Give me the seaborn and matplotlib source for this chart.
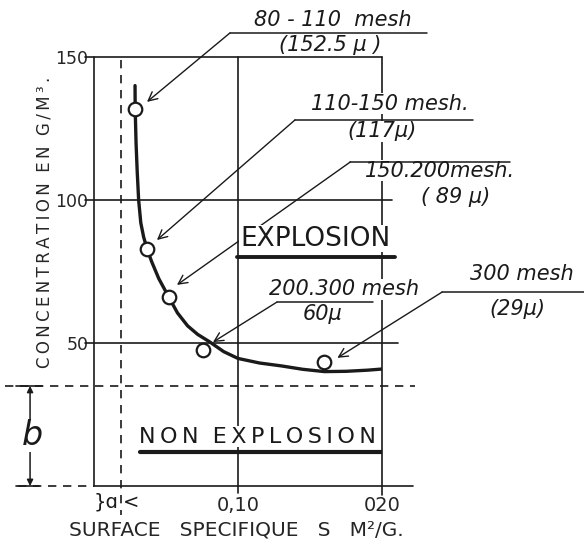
import numpy as np
import pandas as pd
import matplotlib
matplotlib.use("Agg")
import matplotlib.pyplot as plt
import seaborn as sns

sns.set_style("white")
plt.rcParams["font.family"] = ["DejaVu Sans"]

# ---- données -------------------------------------------------------------
# points mesurés (surface spécifique m2/g, concentration g/m3)
pt_x = [0.0285, 0.0368, 0.052, 0.0757, 0.160]
pt_y = [131.8, 82.9, 66.1, 47.6, 43.4]

# courbe tracée à la main
crb_x = [0.0285, 0.0286, 0.0292, 0.0300, 0.0310, 0.0325, 0.0345, 0.0368, 0.040,
         0.045, 0.052, 0.058, 0.065, 0.072, 0.080, 0.090, 0.100, 0.115, 0.130,
         0.145, 0.160, 0.175, 0.190, 0.200]
crb_y = [140, 132, 120, 110, 100, 92, 87, 83, 78.5,
         72.5, 66, 60.5, 56, 53, 50.5, 47, 44.6, 43, 42,
         40.8, 40, 40.1, 40.5, 40.9]

# étiquettes des fractions granulométriques
lab_haut = ["80 - 110  mesh", "110-150 mesh.", "150.200mesh.", "200.300 mesh", "300 mesh"]
lab_bas = ["(152.5 \u00b5 )", "(117\u00b5)", "( 89 \u00b5)", "60\u00b5", "(29\u00b5)"]

y_ticks = [50, 100, 150]
x_ticks = [0.10, 0.20]
x_ticklab = ["0,10", "020"]
a_val = 0.01875   # limite a
b_val = 35        # limite b

df = pd.DataFrame({"S": crb_x, "C": crb_y})
dp = pd.DataFrame({"S": pt_x, "C": pt_y})


def espace(t):
    # lettres espacées comme sur le dessin
    return "  ".join("\u2009".join(m) for m in t.split(" "))


# ---- figure ---------------------------------------------------------------
fig = plt.figure(figsize=(5.84, 5.40), dpi=100)
W, H = 584, 540
ax = fig.add_axes([94 / W, 1 - 486 / H, 288 / W, 429 / H])
ax.set_xlim(0, 0.20)
ax.set_ylim(0, 150)
for s in ax.spines.values():
    s.set_visible(False)

k = "#1a1a1a"
lw = 1.2

# grille dessinée
ax.plot([0, 0], [0, 150], color=k, lw=lw, clip_on=False)
ax.plot([0.10, 0.10], [-2.5, 150], color=k, lw=lw, clip_on=False)
ax.plot([0.20, 0.20], [-3, 150], color=k, lw=lw, clip_on=False)
ax.plot([-0.006, 0.20], [150, 150], color=k, lw=lw, clip_on=False, zorder=6)
ax.plot([-0.006, 0.207], [100, 100], color=k, lw=lw, clip_on=False)
ax.plot([-0.006, 0.211], [50, 50], color=k, lw=lw, clip_on=False)
ax.plot([0, 0.2215], [0, 0], color=k, lw=lw, clip_on=False)

# limites a et b (tirets)
ax.plot([-0.062, 0.223], [b_val, b_val], color=k, lw=lw, ls=(0, (5, 4)), clip_on=False)
ax.plot([a_val, a_val], [149, -10], color=k, lw=lw, ls=(0, (5, 4)), clip_on=False)
ax.plot([-0.053, 0], [0, 0], color=k, lw=lw, ls=(0, (5, 4)), clip_on=False)
ax.plot([-0.054, -0.036], [b_val, b_val], color=k, lw=lw, clip_on=False)
ax.plot([-0.054, -0.038], [0, 0], color=k, lw=lw, clip_on=False)
ax.annotate("", xy=(-0.0444, 0), xytext=(-0.0444, b_val), annotation_clip=False,
            arrowprops=dict(arrowstyle="<|-|>", color=k, lw=1.1, mutation_scale=9,
                            shrinkA=0, shrinkB=0))
ax.text(-0.043, 17.5, "b", fontsize=24, style="italic", ha="center", va="center",
        color=k, clip_on=False, bbox=dict(fc="white", ec="none", pad=0))

# courbe et points
sns.lineplot(data=df, x="S", y="C", sort=False, color=k, lw=2.4, ax=ax, zorder=3)
sns.scatterplot(data=dp, x="S", y="C", s=95, facecolor="white", edgecolor=k,
                linewidth=1.6, ax=ax, zorder=4)

# annotations
txt_pos = [(0.166, 163), (0.2056, 133.6), (0.240, 110.2), (0.174, 68.8), (0.297, 74.2)]
sub_pos = [(0.164, 154.2), (0.200, 124.0), (0.251, 101.0), (0.159, 60.3), (0.294, 62.0)]
ul = [(0.0944, 0.231, 158.4), (0.1396, 0.263, 128), (0.178, 0.289, 113.3),
      (0.127, 0.194, 64.3), (0.2417, 0.340, 67.8)]
tips = [(0.0368, 134.3), (0.0437, 86.0), (0.0576, 70.3), (0.0826, 50.3), (0.169, 44.8)]
for i in range(5):
    ax.text(*txt_pos[i], lab_haut[i], fontsize=15, style="italic", ha="center",
            va="center", color=k, clip_on=False,
            bbox=dict(fc="white", ec="none", pad=0.3))
    ax.text(*sub_pos[i], lab_bas[i], fontsize=15, style="italic", ha="center",
            va="center", color=k, clip_on=False,
            bbox=dict(fc="white", ec="none", pad=0.3))
    x0, x1, yy = ul[i]
    ax.plot([x0, x1], [yy, yy], color=k, lw=1.1, clip_on=False, zorder=5)
    ax.annotate("", xy=tips[i], xytext=(x0, yy), annotation_clip=False,
                arrowprops=dict(arrowstyle="->", color=k, lw=1.0, mutation_scale=16,
                                shrinkA=0, shrinkB=0))

ax.text(0.1535, 86.5, "EXPLOSION", fontsize=19, ha="center", va="center", color=k,
        bbox=dict(fc="white", ec="none", pad=0.5))
ax.plot([0.0993, 0.209], [80, 80], color=k, lw=2.8, clip_on=False, zorder=5)
ax.text(0.1135, 17.3, espace("NON EXPLOSION"), fontsize=16, ha="center", va="center",
        color=k, bbox=dict(fc="white", ec="none", pad=0.5))
ax.plot([0.032, 0.200], [11.9, 11.9], color=k, lw=3.0, zorder=5)

# axes
ax.set_yticks(y_ticks)
ax.set_yticklabels([str(v) for v in y_ticks], fontsize=12.5)
ax.set_xticks(x_ticks)
ax.set_xticklabels(x_ticklab, fontsize=14)
ax.tick_params(axis="y", length=0, pad=4)
ax.tick_params(axis="x", length=0, pad=7)
ax.text(a_val - 0.0015, -5.6, "}\u0251", fontsize=14, ha="right", va="center", color=k)
ax.text(a_val + 0.0010, -5.6, "<", fontsize=14, ha="left", va="center", color=k)

ax.set_xlabel("SURFACE   SPECIFIQUE   S   M\u00b2/G.", fontsize=14.5)
ax.xaxis.set_label_coords((236 - 94) / 288, -(530 - 486) / 429)
ax.set_ylabel(espace("CONCENTRATION EN G/M\u00b3."), fontsize=12)
ax.yaxis.set_label_coords((44 - 94) / 288, (486 - 222) / 429)
ax.xaxis.label.set_va("center")
ax.yaxis.label.set_va("center")

fig.savefig("out.png", dpi=100, facecolor="white")
